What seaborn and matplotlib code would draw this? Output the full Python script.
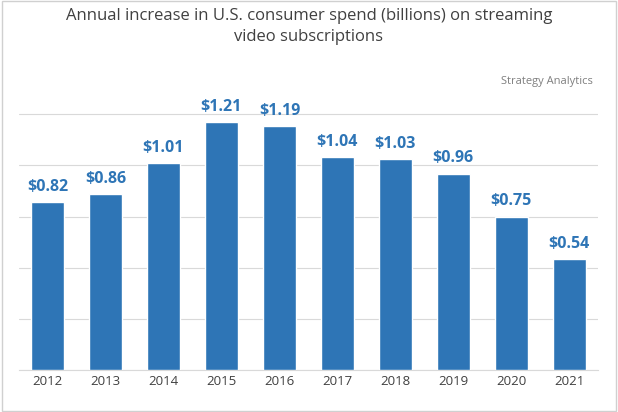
import matplotlib
matplotlib.use("Agg")
import matplotlib.pyplot as plt
import seaborn as sns
import pandas as pd

years = ["2012", "2013", "2014", "2015", "2016", "2017", "2018", "2019", "2020", "2021"]
spend = [0.82, 0.86, 1.01, 1.21, 1.19, 1.04, 1.03, 0.96, 0.75, 0.54]
labels = ["$0.82", "$0.86", "$1.01", "$1.21", "$1.19", "$1.04", "$1.03", "$0.96", "$0.75", "$0.54"]

df = pd.DataFrame({"Year": years, "Spend": spend})

sns.set_style("white")
plt.rcParams["font.family"] = ["Open Sans", "DejaVu Sans"]

fig = plt.figure(figsize=(6.18, 4.12), dpi=100)
ax = fig.add_axes([0.03, 0.102, 0.938, 0.745])

sns.barplot(data=df, x="Year", y="Spend", color="#2E75B6", saturation=1,
            width=0.57, ax=ax, zorder=3)

for i, (v, t) in enumerate(zip(spend, labels)):
    ax.text(i, v + 0.035, t, ha="center", va="bottom", fontsize=11.5,
            fontweight="bold", color="#2E75B6")

ax.set_ylim(0, 1.5)
ax.set_yticks([0, 0.25, 0.5, 0.75, 1.0, 1.25])
ax.yaxis.grid(True, color="#d9d9d9", linewidth=0.8, zorder=0)
ax.tick_params(axis="y", left=False, labelleft=False)
ax.tick_params(axis="x", labelsize=9.5, colors="#404040", length=0)
ax.set_xlabel("")
ax.set_ylabel("")
for s in ["top", "right", "left"]:
    ax.spines[s].set_visible(False)
ax.spines["bottom"].set_color("#d9d9d9")

ax.text(0.99, 0.94, "Strategy Analytics", transform=ax.transAxes, ha="right",
        va="center", fontsize=8, color="#7f7f7f")

fig.text(0.5, 0.935, "Annual increase in U.S. consumer spend (billions) on streaming\nvideo subscriptions",
         ha="center", va="center", fontsize=12, color="#404040", linespacing=1.4)

fig.patches.append(plt.Rectangle((0.003, 0.003), 0.994, 0.994, transform=fig.transFigure,
                                 fill=False, edgecolor="#d0d0d0", linewidth=1))

fig.savefig("out.png", dpi=100)
